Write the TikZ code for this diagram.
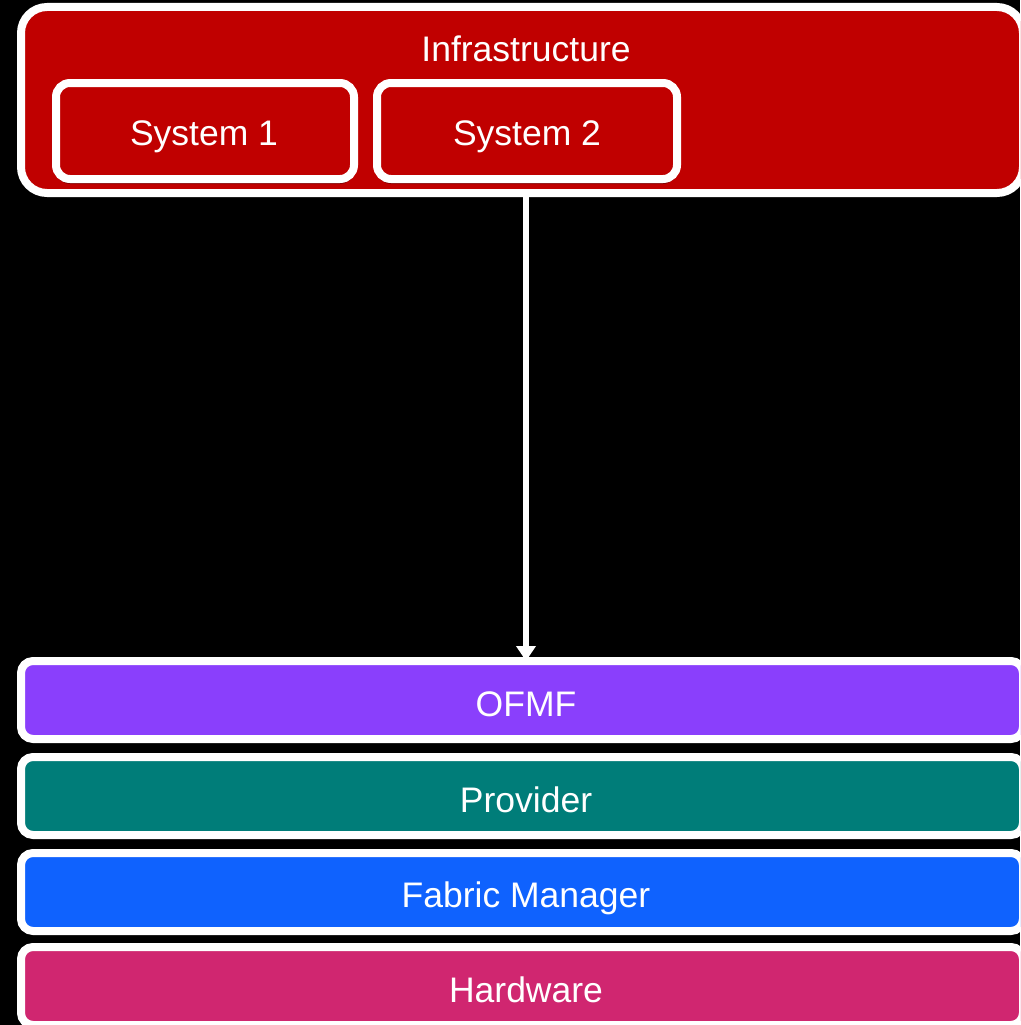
\documentclass[tikz,border=0pt]{standalone}
\usepackage{fontspec}
\setmainfont{Liberation Sans}
\usetikzlibrary{arrows.meta,shadows}
\definecolor{infrared}{HTML}{C00000}
\definecolor{ofmfpurple}{HTML}{8A3FFC}
\definecolor{provteal}{HTML}{007D79}
\definecolor{fmblue}{HTML}{0F62FE}
\definecolor{hwmagenta}{HTML}{D02670}
\begin{document}
\begin{tikzpicture}[x=1pt,y=-1pt,
  panel/.style={draw=white,line width=8pt,rectangle,inner sep=0pt,outer sep=0pt},
  infrabox/.style={panel,fill=infrared,rounded corners=26pt,minimum width=1002pt,minimum height=186pt},
  sysbox/.style={panel,fill=infrared,rounded corners=14pt,minimum height=96pt,
    drop shadow={shadow xshift=0pt,shadow yshift=-5pt,opacity=0.3,fill=black}},
  layerbox/.style={panel,rounded corners=12pt,minimum width=1002pt,minimum height=78pt},
  lbl/.style={text=white,anchor=base,inner sep=0pt,font=\fontsize{35.5}{40}\selectfont},
  flow/.style={draw=white,line width=6pt,-{Triangle[width=19pt,length=15pt]}}
]
\useasboundingbox (0,0) rectangle (1020,1025);
\fill[black] (0,0) rectangle (1020,1025);
\clip (0,0) rectangle (1020,1025);

% top container with the two systems
\node[infrabox] (infra) at (522,100) {};
\node[sysbox,minimum width=298pt] (sys1) at (205,131) {};
\node[sysbox,minimum width=300pt] (sys2) at (527,131) {};
\node[lbl] (infratxt) at (526,62) {Infrastructure};
\node[lbl] (sys1txt) at (204,145) {System 1};
\node[lbl] (sys2txt) at (527,145) {System 2};

% stacked layers
\node[layerbox,fill=ofmfpurple] (ofmf) at (522,700) {};
\node[layerbox,fill=provteal] (prov) at (522,796) {};
\node[layerbox,fill=fmblue] (fm) at (522,892) {};
\node[layerbox,fill=hwmagenta] (hw) at (522,986) {};
\node[lbl] (ofmftxt) at (526,716) {OFMF};
\node[lbl] (provtxt) at (526,812) {Provider};
\node[lbl] (fmtxt) at (526,907) {Fabric Manager};
\node[lbl] (hwtxt) at (526,1002) {Hardware};

% request path from the infrastructure down to OFMF
\coordinate (axis) at (526,0);
\draw[flow] (infra.south -| axis) -- (ofmf.north -| axis);
\end{tikzpicture}
\end{document}
